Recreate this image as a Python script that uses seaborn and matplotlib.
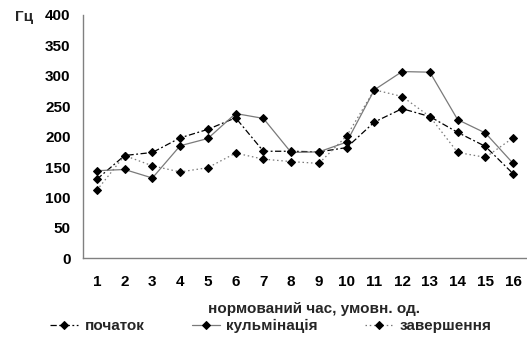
import matplotlib
matplotlib.use("Agg")
import matplotlib.pyplot as plt
import seaborn as sns
import pandas as pd
import numpy as np

# Normalised time points and pitch (Hz) for the three phases
time_points = list(range(1, 17))
pochatok = [130, 169, 174, 198, 212, 231, 176, 176, 175, 182, 224, 246, 233, 207, 184, 139]
kulminatsiya = [144, 146, 132, 185, 197, 238, 230, 174, 175, 191, 277, 307, 306, 228, 206, 156]
zavershennya = [112, 169, 152, 142, 149, 173, 163, 159, 156, 201, 277, 266, 233, 174, 166, 198]
series_names = ["початок", "кульмінація", "завершення"]
y_ticks = [0, 50, 100, 150, 200, 250, 300, 350, 400]

df = pd.DataFrame({
    "t": time_points * 3,
    "hz": pochatok + kulminatsiya + zavershennya,
    "phase": [series_names[0]] * 16 + [series_names[1]] * 16 + [series_names[2]] * 16,
})

sns.set_theme(style="white")
plt.rcParams["font.family"] = ["Liberation Sans", "DejaVu Sans"]
plt.rcParams["font.weight"] = "bold"
FS = 11

fig = plt.figure(figsize=(5.27, 3.40), dpi=100)
ax = fig.add_axes([83 / 527, 1 - 258.3 / 340, 444 / 527, (258.3 - 15) / 340])

palette = {series_names[0]: "#000000", series_names[1]: "#7a7a7a", series_names[2]: "#7a7a7a"}
dashes = {series_names[0]: (5, 2, 1.5, 2), series_names[1]: "", series_names[2]: (1.2, 2.2)}
markers = {n: "D" for n in series_names}

sns.lineplot(data=df, x="t", y="hz", hue="phase", style="phase",
             hue_order=series_names, style_order=series_names,
             palette=palette, dashes=dashes, markers=markers,
             markersize=3.7, linewidth=0.9, legend=False, ax=ax,
             markerfacecolor="black", markeredgecolor="black")

ax.set_xlim(0.5, 16.5)
ax.set_ylim(0, 400)
ax.set_yticks(y_ticks)
ax.set_yticklabels([str(v) for v in y_ticks], fontsize=FS, fontweight="bold")
ax.set_xticks(time_points)
ax.set_xticklabels([str(t) for t in time_points], fontsize=FS, fontweight="bold")
ax.set_xticks(np.arange(0.5, 16.6, 1), minor=True)
ax.tick_params(axis="x", which="major", length=0, pad=12)
ax.tick_params(axis="x", which="minor", length=3.5, width=0.8, direction="out")
ax.tick_params(axis="y", which="major", length=3, width=0.8, direction="out", pad=6)
ax.tick_params(axis="both", which="both", color="#808080", labelcolor="black")

for side in ("top", "right"):
    ax.spines[side].set_visible(False)
for side in ("left", "bottom"):
    ax.spines[side].set_color("#808080")
    ax.spines[side].set_linewidth(1.0)

ax.set_xlabel("нормований час, умовн. од.", fontsize=FS, fontweight="bold")
ax.xaxis.set_label_coords(0.52, -0.18)
ax.set_ylabel("")

fig.text(24 / 527, 1 - 17 / 340, "Гц", fontsize=FS, fontweight="bold", ha="center", va="center")

leg = fig.legend(handles=ax.lines[:3], labels=series_names, loc="center left",
                 bbox_to_anchor=(50 / 527, 1 - 326 / 340), ncol=3, frameon=False,
                 fontsize=FS, handlelength=1.85, handletextpad=0.4, columnspacing=3.1,
                 borderpad=0, borderaxespad=0)
for txt in leg.get_texts():
    txt.set_fontweight("bold")

fig.savefig("out.png", dpi=100)
